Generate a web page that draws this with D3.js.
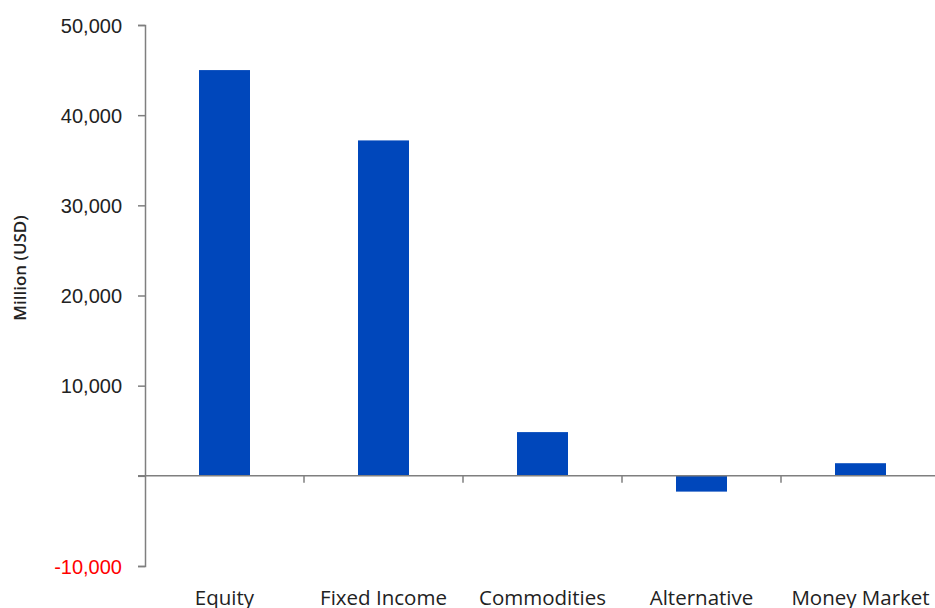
<!DOCTYPE html>
<html>
<head>
<meta charset="utf-8">
<script src="https://cdn.jsdelivr.net/npm/d3@7"></script>
<style>
	body { margin: 0; background: #fff; }
	svg { display: block; font-family: "Open Sans", sans-serif; }
	.axis path, .axis line { stroke: #7f7f7f; stroke-width: 1.5; }
	.axis text { fill: #222; }
</style>
</head>
<body>
<div id="chart"></div>
<script>
// data
const categories = ['Equity', 'Fixed Income', 'Commodities', 'Alternative', 'Money Market'];
const flows = [45000, 37200, 4850, -1750, 1400];
const yTicks = [-10000, 0, 10000, 20000, 30000, 40000, 50000];
const yTitle = 'Million (USD)';

const width = 935, height = 608;
const m = {left: 145, right: -5, top: 25, bottom: 42};

const svg = d3.select('#chart').append('svg')
	.attr('width', width)
	.attr('height', height);

const x = d3.scaleBand()
	.domain(categories)
	.range([m.left, width - m.right]);

const y = d3.scaleLinear()
	.domain([-10000, 50000])
	.range([height - m.bottom, m.top]);

const barW = 51;
const fmt = d3.formatLocale({decimal: '.', thousands: ',', grouping: [3], currency: ['$', ''], minus: '-'}).format(',');

//bars
svg.append('g').selectAll('rect')
	.data(categories)
	.join('rect')
	.attr('x', d => x(d) + (x.bandwidth() - barW) / 2)
	.attr('y', (d, i) => y(Math.max(0, flows[i])))
	.attr('width', barW)
	.attr('height', (d, i) => Math.abs(y(flows[i]) - y(0)))
	.style('fill', '#0047bb');

//y axis
const yAxis = svg.append('g')
	.attr('class', 'y axis')
	.attr('transform', 'translate(' + m.left + ',0)')
	.call(d3.axisLeft(y)
		.tickValues(yTicks)
		.tickSize(7)
		.tickSizeOuter(7)
		.tickPadding(16)
		.tickFormat(d => d === 0 ? '' : fmt(d)));
yAxis.selectAll('text')
	.style('font-size', '20px')
	.attr('dy', '0.35em')
	.style('fill', d => d < 0 ? '#ff0000' : '#222');

//x axis at zero
const xAxis = svg.append('g')
	.attr('class', 'x axis')
	.attr('transform', 'translate(0,' + y(0) + ')')
	.call(d3.axisBottom(x).tickSize(0).tickSizeOuter(0).tickFormat(''));
xAxis.select('.domain').attr('d', 'M' + (m.left - 7) + ',0H' + width);

// category separators
xAxis.selectAll('.sep')
	.data(categories.slice(1))
	.join('line')
	.attr('class', 'sep')
	.attr('x1', d => x(d)).attr('x2', d => x(d))
	.attr('y1', 0).attr('y2', 7);

// category labels sit below the plot
svg.append('g').selectAll('text')
	.data(categories)
	.join('text')
	.attr('x', d => x(d) + x.bandwidth() / 2)
	.attr('y', 605)
	.attr('text-anchor', 'middle')
	.style('font-size', '20.5px')
	.style('fill', '#222')
	.text(d => d);

svg.append('text')
	.attr('transform', 'translate(26,268) rotate(-90)')
	.attr('text-anchor', 'middle')
	.style('font-size', '17px')
	.style('font-weight', 600)
	.style('fill', '#222')
	.text(yTitle);
</script>
</body>
</html>
